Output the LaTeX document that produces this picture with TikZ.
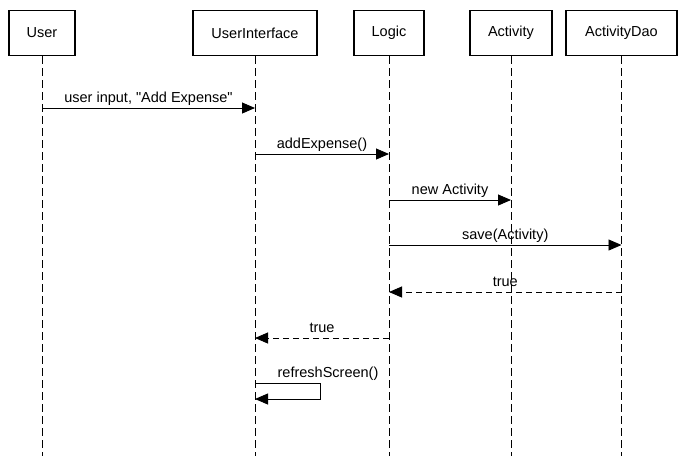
\documentclass[tikz,border=0pt]{standalone}
\usepackage{fontspec}
\setmainfont{Liberation Sans}
\usetikzlibrary{arrows.meta}

\begin{document}
\begin{tikzpicture}[x=1pt, y=-1pt,
  actor/.style={draw, line width=1.8pt, minimum height=45pt, inner sep=0pt, font=\fontsize{14.5}{16}\selectfont},
  lifeline/.style={line width=0.9pt, dash pattern=on 8pt off 4pt},
  msg/.style={line width=0.9pt, -{Triangle[length=13pt, width=11pt]}},
  reply/.style={msg, dash pattern=on 6pt off 4pt},
  lbl/.style={anchor=base, yshift=6pt, inner sep=0pt, font=\fontsize{14.5}{16}\selectfont}]

  \useasboundingbox (0,0) rectangle (685,456);

  % objects
  \node[actor, minimum width=66pt]  (user)     at (42,33)    {User};
  \node[actor, minimum width=124pt] (ui)       at (255,33)   {UserInterface};
  \node[actor, minimum width=70pt]  (logic)    at (389,33)   {Logic};
  \node[actor, minimum width=82pt]  (activity) at (511,33)   {Activity};
  \node[actor, minimum width=111pt] (dao)      at (621.5,33) {ActivityDao};

  % lifelines
  \foreach \obj in {user, ui, logic, activity, dao}
    \draw[lifeline] (\obj.south) -- (\obj |- 0,456);

  % messages
  \draw[msg] (user |- 0,108) -- node[lbl] {user input, \textquotedbl Add Expense\textquotedbl} (ui |- 0,108);
  \draw[msg] (ui |- 0,154) -- node[lbl] {addExpense()} (logic |- 0,154);
  \draw[msg] (logic |- 0,200) -- node[lbl] {new Activity} (activity |- 0,200);
  \draw[msg] (logic |- 0,245) -- node[lbl] {save(Activity)} (dao |- 0,245);
  \draw[reply] (dao |- 0,292) -- node[lbl] {true} (logic |- 0,292);
  \draw[reply] (logic |- 0,338) -- node[lbl] {true} (ui |- 0,338);
  \draw[msg] (ui |- 0,383) -- (320,383) -- (320,399) -- (ui |- 0,399);
  \node[lbl] (refresh) at (328,383) {refreshScreen()};

\end{tikzpicture}
\end{document}
